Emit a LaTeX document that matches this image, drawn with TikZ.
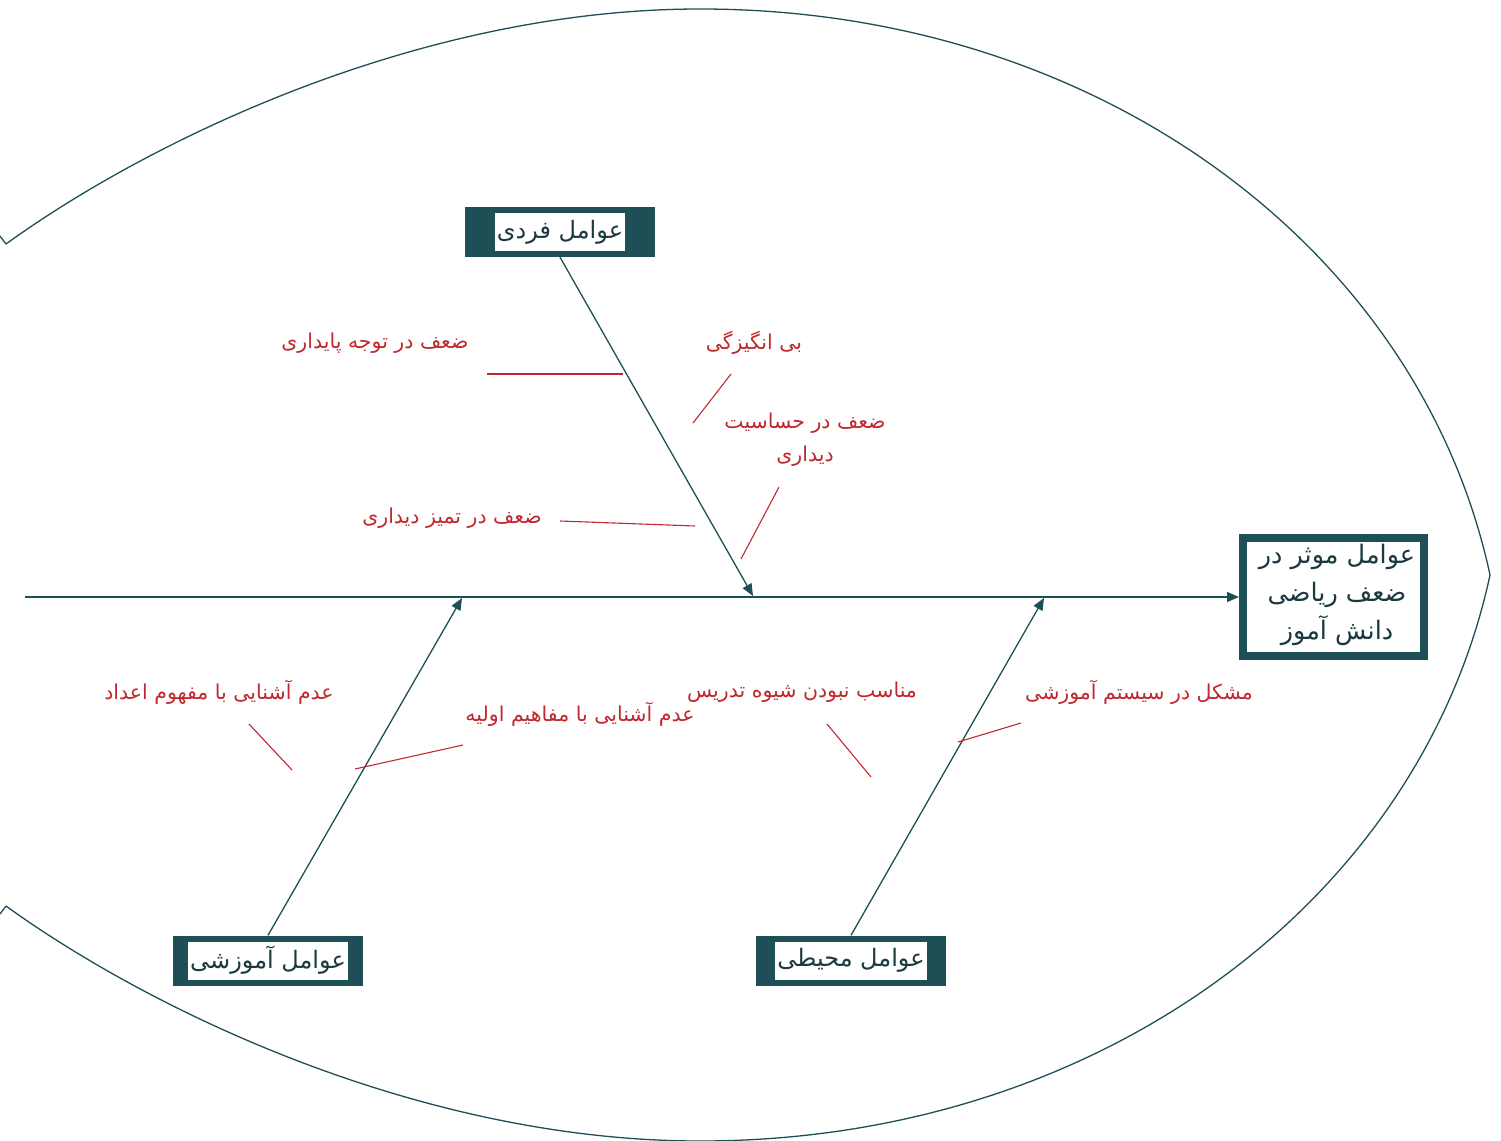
\documentclass[tikz,border=0pt]{standalone}
\usepackage{fontspec}
\newfontfamily\arabicfont[Script=Arabic]{DejaVu Sans}
\TeXXeTstate=1
\usetikzlibrary{arrows.meta}
\definecolor{teal1}{HTML}{1E4F56}
\definecolor{redl}{HTML}{C0282D}
\definecolor{txtdark}{HTML}{1B3A40}
\newcommand{\fa}[1]{\beginR #1\endR}
\begin{document}
\begin{tikzpicture}[x=1pt,y=-1pt,
  outline/.style={draw=teal1, line width=1.3pt, line join=round},
  bone/.style={draw=teal1, line width=1.3pt, -{Triangle[length=12pt,width=10pt]}},
  sub/.style={draw=redl, line width=1.1pt},
  lbl/.style={text=redl, font=\arabicfont\fontsize{20.5}{33}\selectfont, inner sep=0pt, align=center},
  cat/.style={fill=teal1, minimum width=190pt, minimum height=50pt, inner sep=0pt},
  cattxt/.style={fill=white, text=txtdark, font=\arabicfont\fontsize{24}{28}\selectfont, inner sep=2pt, minimum height=38pt},
  headbox/.style={draw=teal1, line width=8pt, fill=white, minimum width=181pt, minimum height=118pt, inner sep=0pt},
  headtxt/.style={text=txtdark, font=\arabicfont\fontsize{25.5}{38}\selectfont, align=center, inner sep=0pt}]
\useasboundingbox (0,0) rectangle (1501,1140);
% fish outline
\draw[outline] (0,236) -- (6,244) .. controls (150,140) and (420,9) .. (700,9)
  .. controls (1100,9) and (1420,250) .. (1490,575);
\draw[outline] (0,914) -- (6,906) .. controls (150,1010) and (420,1141) .. (700,1141)
  .. controls (1100,1141) and (1420,900) .. (1490,575);
% head
\node[headbox] (head) at (1333.5,597) {};
\node[headtxt] (headt) at (1337,595) {\fa{عوامل موثر در}\\\fa{ضعف ریاضی}\\\fa{دانش آموز}};
% spine
\coordinate (tail) at (25,597);
\draw[bone] (tail) -- (head.west);
% category boxes
\node[cat] (ind) at (560,232) {};
\node[cattxt] (indt) at (ind) {\fa{عوامل فردی}};
\node[cat] (edu) at (268,960.5) {};
\node[cattxt] (edut) at (edu) {\fa{عوامل آموزشی}};
\node[cat] (env) at (851,960.5) {};
\node[cattxt] (envt) at (env) {\fa{عوامل محیطی}};
% bone ends on spine
\coordinate (j1) at (753,596);
\coordinate (j2) at (462,598);
\coordinate (j3) at (1044,598);
\draw[bone] (ind.south) -- (j1);
\draw[bone] (edu.north) -- (j2);
\draw[bone] (env.north) -- (j3);
% labels
\node[lbl] (l1) at (375,343) {\fa{ضعف در توجه پایداری}};
\node[lbl] (l2) at (754,343) {\fa{بی انگیزگی}};
\node[lbl] (l3) at (805,440) {\fa{ضعف در حساسیت}\\\fa{دیداری}};
\node[lbl] (l4) at (452,518) {\fa{ضعف در تمیز دیداری}};
\node[lbl] (l5) at (219,692) {\fa{عدم آشنایی با مفهوم اعداد}};
\node[lbl] (l6) at (580,714) {\fa{عدم آشنایی با مفاهیم اولیه}};
\node[lbl] (l7) at (802,692) {\fa{مناسب نبودن شیوه تدریس}};
\node[lbl] (l8) at (1139,692) {\fa{مشکل در سیستم آموزشی}};
% sub-cause lines
\coordinate (s1a) at (487,374); \coordinate (s1b) at (623,374);
\coordinate (s2a) at (731,374); \coordinate (s2b) at (693,423);
\coordinate (s3a) at (779,487); \coordinate (s3b) at (741,559);
\coordinate (s4a) at (560,521); \coordinate (s4b) at (695,526);
\coordinate (s5a) at (249,724); \coordinate (s5b) at (292,770);
\coordinate (s6a) at (463,745); \coordinate (s6b) at (355,769);
\coordinate (s7a) at (827,724); \coordinate (s7b) at (871,777);
\coordinate (s8a) at (1021,723); \coordinate (s8b) at (958,742);
\draw[sub] (s1a) -- (s1b);
\draw[sub] (s2a) -- (s2b);
\draw[sub] (s3a) -- (s3b);
\draw[sub] (s4a) -- (s4b);
\draw[sub] (s5a) -- (s5b);
\draw[sub] (s6a) -- (s6b);
\draw[sub] (s7a) -- (s7b);
\draw[sub] (s8a) -- (s8b);
\end{tikzpicture}
\end{document}
